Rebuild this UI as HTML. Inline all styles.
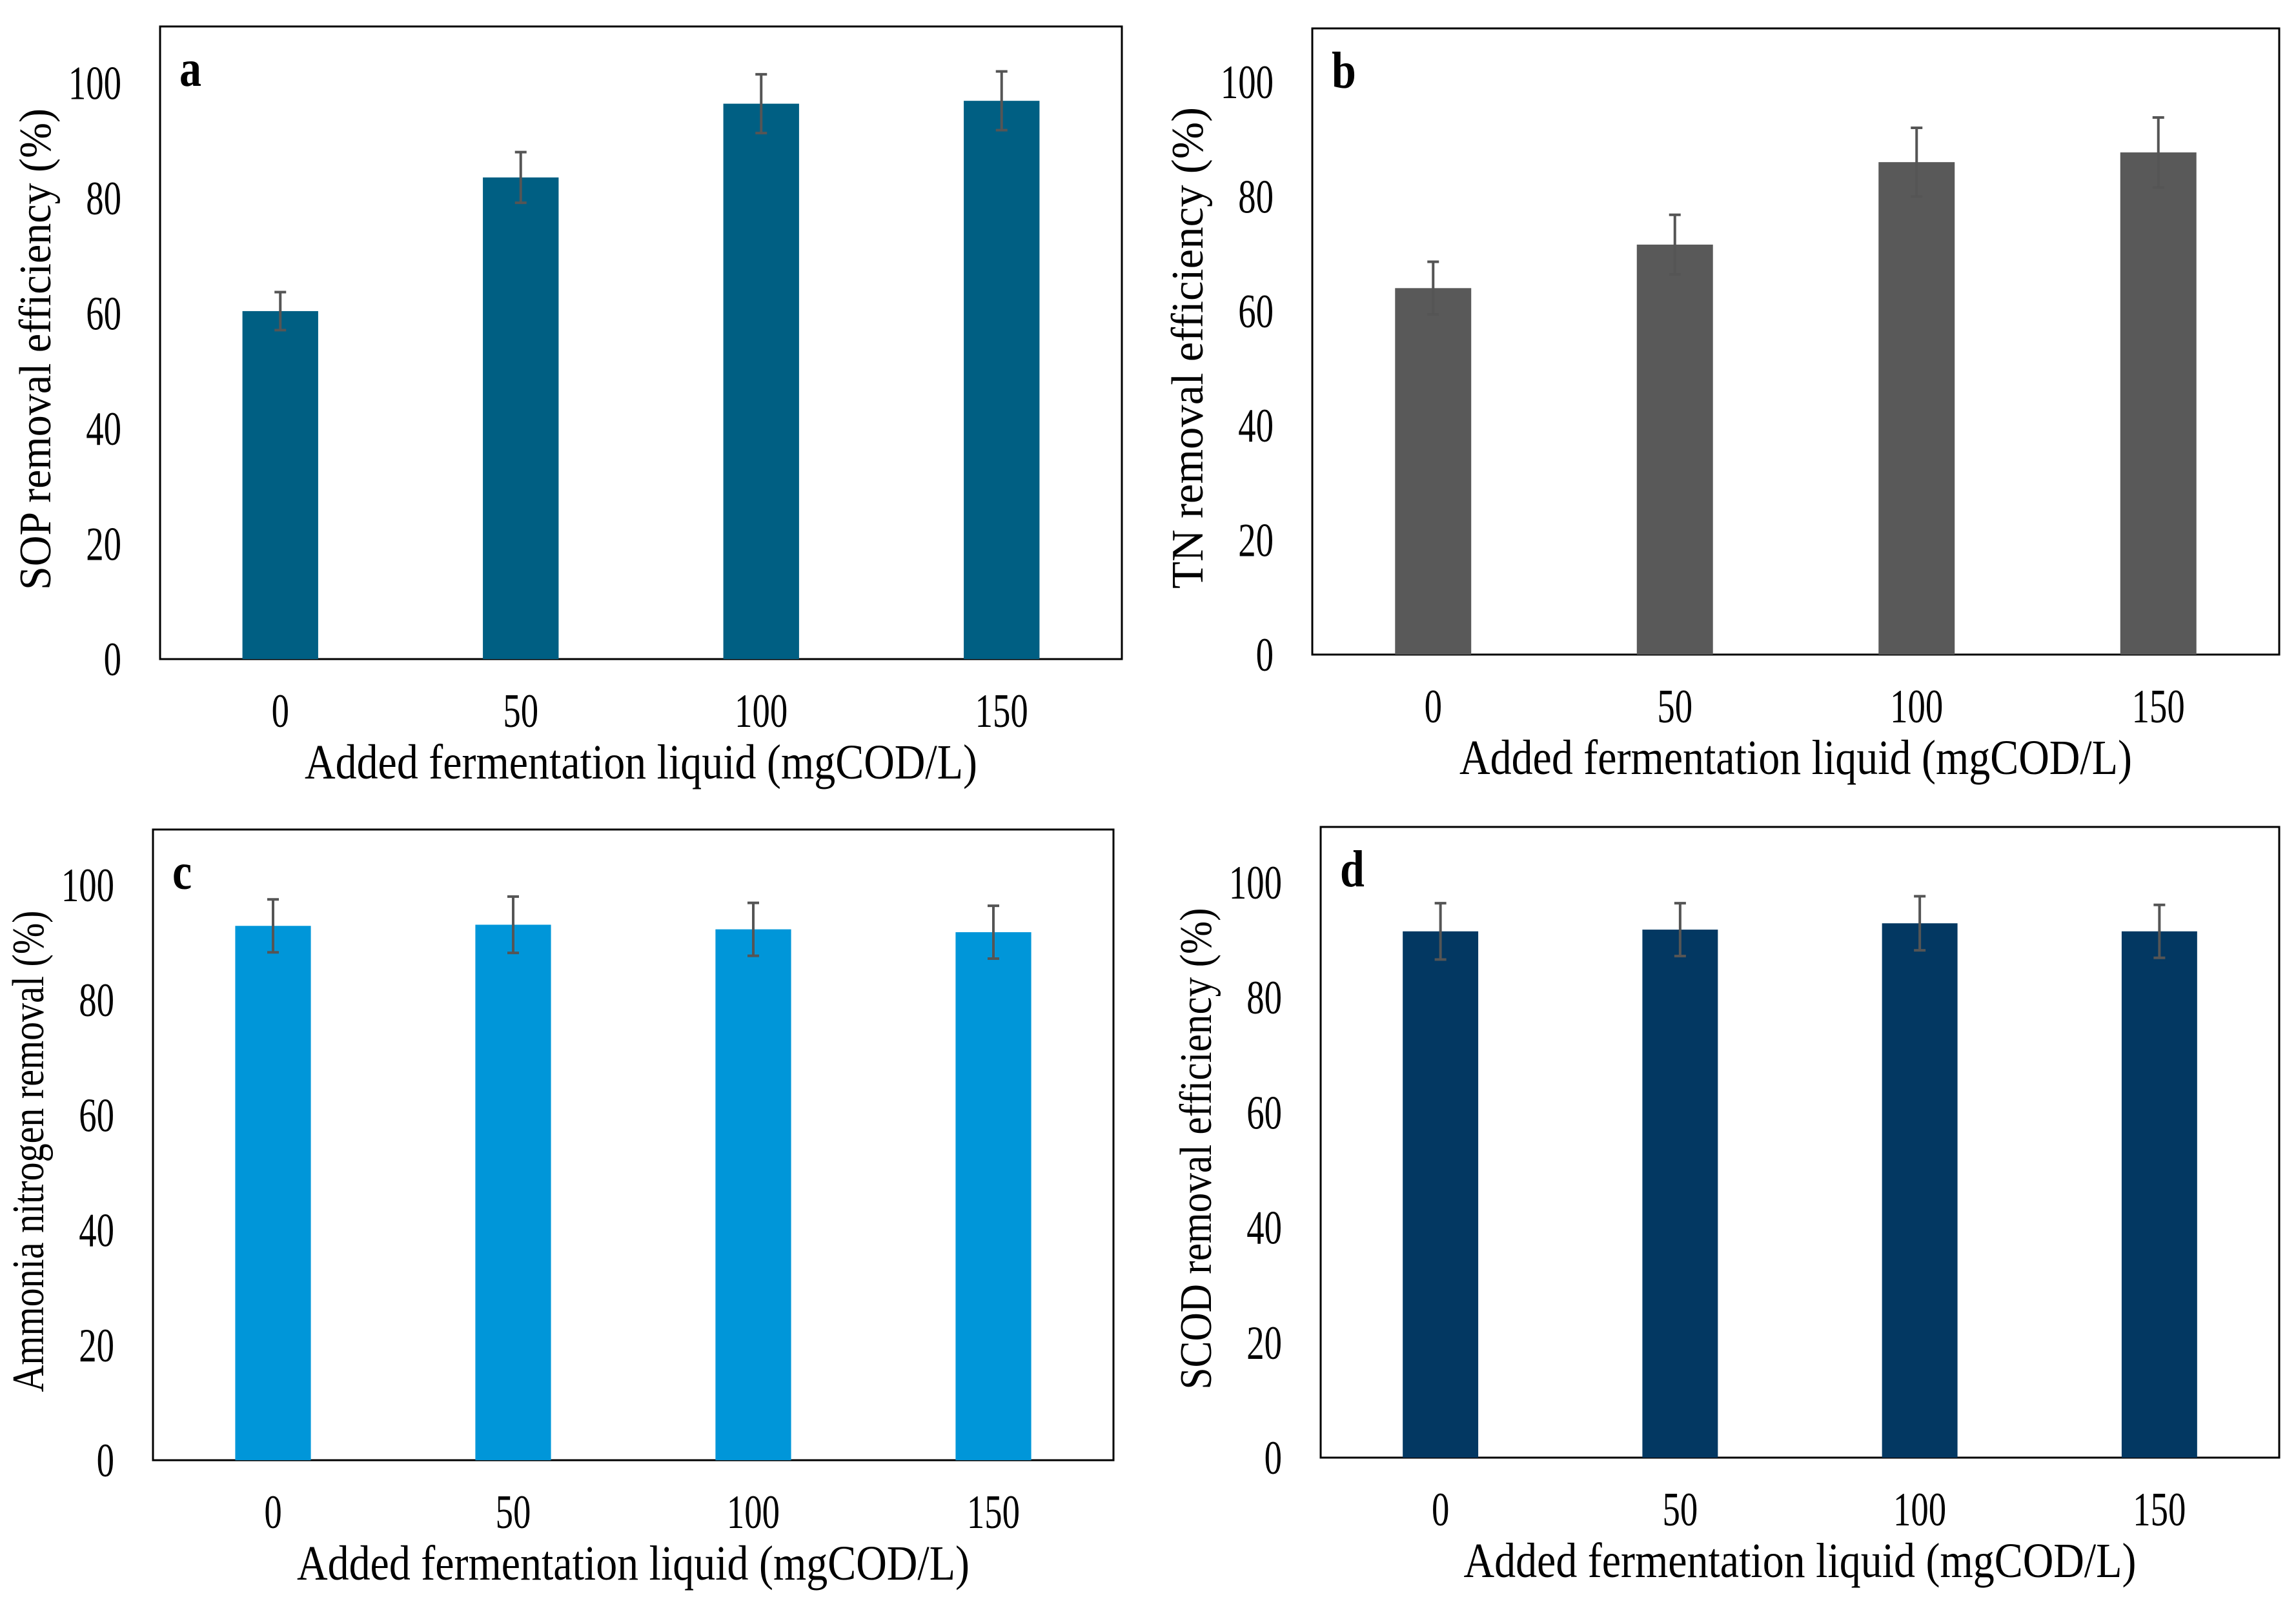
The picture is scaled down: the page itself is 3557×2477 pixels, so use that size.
<!DOCTYPE html>
<html><head><meta charset="utf-8"><style>
html,body{margin:0;padding:0;background:#fff;overflow:hidden;}
svg{display:block;}
text{font-family:"Liberation Serif",serif;fill:#000;}
</style></head><body>
<svg id="fig" width="3557" height="2477" viewBox="0 0 3557 2477" xmlns="http://www.w3.org/2000/svg"></svg>
<script>
const categories = ["0","50","100","150"];
const yTicks = [0,20,40,60,80,100];
const sopValues = [60.4, 83.6, 96.4, 96.9];
const sopErrors = [3.3, 4.4, 5.1, 5.1];
const tnValues = [64.0, 71.6, 86.0, 87.7];
const tnErrors = [4.6, 5.2, 6.0, 6.1];
const ammoniaValues = [92.9, 93.1, 92.3, 91.8];
const ammoniaErrors = [4.6, 4.9, 4.6, 4.6];
const scodValues = [91.5, 91.8, 92.9, 91.5];
const scodErrors = [4.9, 4.6, 4.7, 4.6];

const svg = document.getElementById('fig');
const NS = 'http://www.w3.org/2000/svg';
function mk(tag, attrs, parent){
  const e = document.createElementNS(NS, tag);
  for (const k in attrs) e.setAttribute(k, attrs[k]);
  parent.appendChild(e);
  return e;
}

const panels = [
  {id:'a', L:248, T:41, R:1738, B:1021, y100:128.5, color:'#005f83', title:'SOP removal efficiency (%)', vals:sopValues, errs:sopErrors},
  {id:'b', L:2033, T:44, R:3531, B:1014, y100:127, color:'#595959', title:'TN removal efficiency (%)', vals:tnValues, errs:tnErrors},
  {id:'c', L:237, T:1285, R:1725, B:2262, y100:1371, color:'#0096d9', title:'Ammonia nitrogen removal (%)', vals:ammoniaValues, errs:ammoniaErrors},
  {id:'d', L:2046, T:1281, R:3531, B:2258, y100:1367, color:'#033862', title:'SCOD removal efficiency (%)', vals:scodValues, errs:scodErrors}
];

panels.forEach(p => {
  const g = mk('g', {}, svg);
  
  
  const yScale = v => p.B - (p.B - p.y100) * v / 100;
  const band = (p.R - p.L) / categories.length;
  const xScale = i => p.L + band * (i + 0.5);
  const barW = band * 0.315;

  const frame = mk('rect', {x:p.L, y:p.T, width:p.R-p.L, height:p.B-p.T, fill:'none', stroke:'#000', 'stroke-width':3}, g);
  
  

  yTicks.forEach(t => {
    const tx = mk('text', {x:0, y:0, 'font-size':74, 'text-anchor':'end', transform:`translate(${p.L-60},${yScale(t)+25}) scale(0.74,1)`}, g);
    tx.textContent = String(t);
    
    
  });

  p.vals.forEach((v, i) => {
    const cx = xScale(i);
    const bar = mk('rect', {x:cx-barW/2, y:yScale(v), width:barW, height:p.B-yScale(v), fill:p.color}, g);
    
    
    const e = p.errs[i];
    const eg = mk('g', {stroke:'#555', 'stroke-width':4}, g);
    
    
    mk('line', {x1:cx, x2:cx, y1:yScale(v+e), y2:yScale(v-e)}, eg);
    mk('line', {x1:cx-9, x2:cx+9, y1:yScale(v+e), y2:yScale(v+e)}, eg);
    mk('line', {x1:cx-9, x2:cx+9, y1:yScale(v-e), y2:yScale(v-e)}, eg);
    const lb = mk('text', {x:0, y:0, 'font-size':74, 'text-anchor':'middle', transform:`translate(${cx},${p.B+105}) scale(0.74,1)`}, g);
    lb.textContent = categories[i];
    
    
  });

  const xt = mk('text', {x:(p.L+p.R)/2, y:p.B+185, 'font-size':76, 'text-anchor':'middle', textLength:1042, lengthAdjust:'spacingAndGlyphs'}, g);
  xt.textContent = 'Added fermentation liquid (mgCOD/L)';
  
  

  const cy = (p.T + p.B) / 2 + 10;
  const yt = mk('text', {x:0, y:0, 'font-size':70, 'text-anchor':'middle', transform:`translate(${p.L-170},${cy}) rotate(-90)`, textLength:746, lengthAdjust:'spacingAndGlyphs'}, g);
  yt.textContent = p.title;
  
  

  const pl = mk('text', {x:0, y:0, 'font-size':80, 'font-weight':'bold', transform:`translate(${p.L+30},${p.T+92}) scale(0.85,1)`}, g);
  pl.textContent = p.id;
  
  
});
</script>
</body></html>
